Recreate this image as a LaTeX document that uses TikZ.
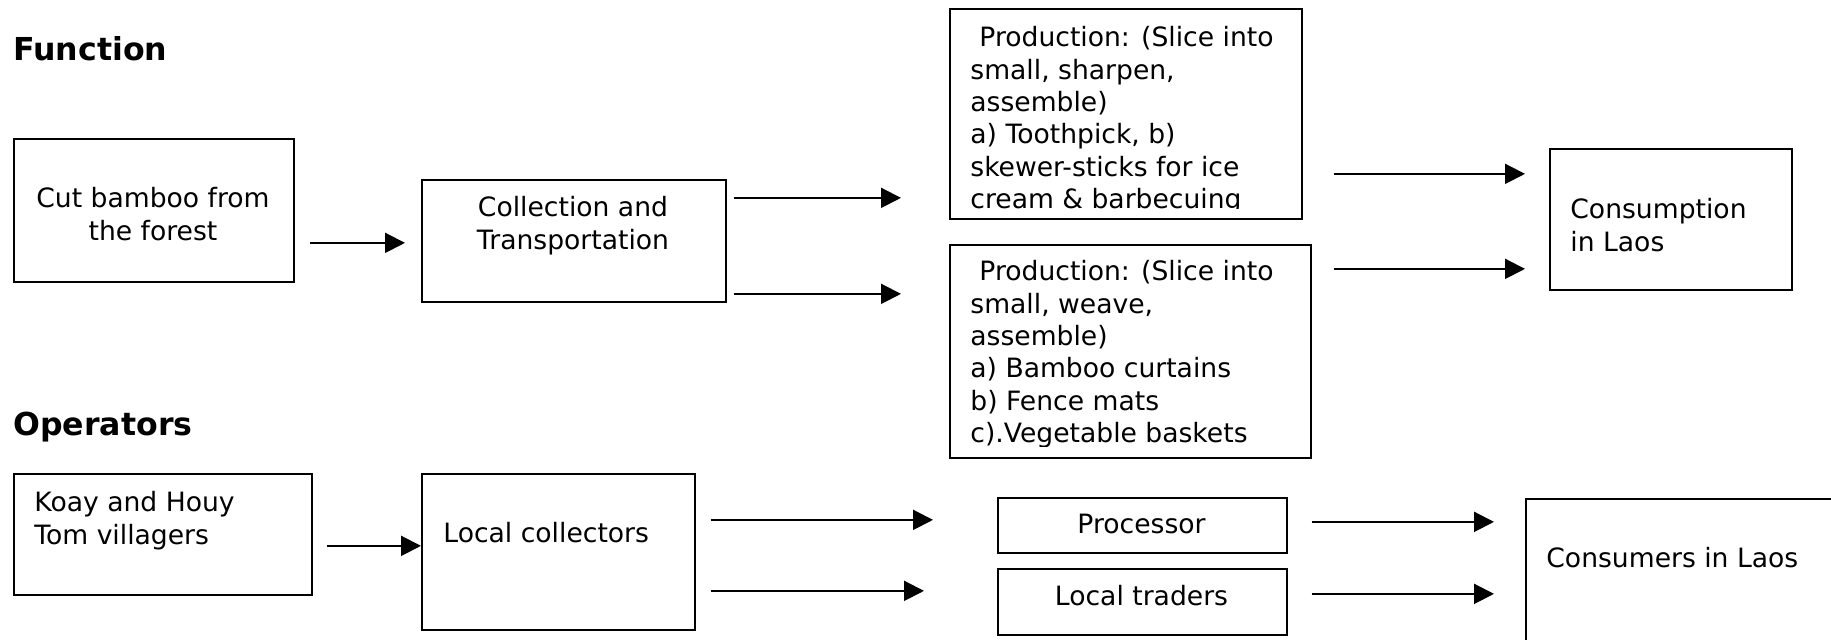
\documentclass[tikz,border=0pt]{standalone}
\usepackage{fontspec}
\setmainfont{DejaVu Sans}
\usetikzlibrary{arrows.meta,calc}

\begin{document}
\begin{tikzpicture}[x=0.5pt,y=-0.5pt,
  box/.style={draw, line width=0.85pt, anchor=north west, inner sep=0pt},
  txt/.style={inner sep=0pt, font=\fontsize{13.3pt}{16.2pt}\selectfont},
  head/.style={inner sep=0pt, anchor=base west, font=\fontsize{15.8pt}{19pt}\selectfont\bfseries},
  arrow/.style={line width=1pt, -{Triangle[length=10pt,width=10pt]}}]

  \useasboundingbox (0,0) rectangle (1831,639);

  % headings
  \node[head] (function) at (13,60) {Function};
  \node[head] (operators) at (13,435) {Operators};

  % function row
  \node[box, minimum width=140pt, minimum height=71.5pt] (cut) at (13,138) {};
  \node[box, minimum width=152pt, minimum height=61pt] (coll) at (421,179) {};
  \node[box, minimum width=176pt, minimum height=105pt] (proda) at (949,8) {};
  \node[box, minimum width=180.5pt, minimum height=106.5pt] (prodb) at (949,244) {};
  \node[box, minimum width=121pt, minimum height=70.5pt] (cons) at (1549,148) {};

  \node[txt, anchor=north, align=center] (cuttext) at (153,187) {Cut bamboo from\\the forest};
  \node[txt, anchor=north, align=center] (colltext) at (573,196) {Collection and\\Transportation};
  \begin{scope}
    \clip (949,8) rectangle (1301,208);
    \node[txt, anchor=north west, align=left] (prodatext) at (970,26)
      {\hspace*{4.5pt}Production: (Slice into\\small, sharpen,\\assemble)\\a) Toothpick, b)\\skewer-sticks for ice\\cream \& barbecuing};
  \end{scope}
  \begin{scope}
    \clip (949,244) rectangle (1310,446);
    \node[txt, anchor=north west, align=left] (prodbtext) at (970,260)
      {\hspace*{4.5pt}Production: (Slice into\\small, weave,\\assemble)\\a) Bamboo curtains\\b) Fence mats\\c).Vegetable baskets};
  \end{scope}
  \node[txt, anchor=north west, align=left] (constext) at (1570,198) {Consumption\\in Laos};

  \draw[arrow] ($(cut.east)+(15,32.5)$) -- ($(coll.west)+(-16,2)$);
  \draw[arrow] ($(coll.east)+(7,-43)$) -- ($(proda.west)+(-48,84)$);
  \draw[arrow] ($(coll.east)+(7,53)$) -- ($(prodb.west)+(-48,-57.5)$);
  \draw[arrow] ($(proda.east)+(31,60)$) -- ($(cons.west)+(-24,-45.5)$);
  \draw[arrow] ($(prodb.east)+(22,-82.5)$) -- ($(cons.west)+(-24,49.5)$);

  % operators row
  \node[box, minimum width=149pt, minimum height=60.5pt] (koay) at (13,473) {};
  \node[box, minimum width=136.5pt, minimum height=78pt] (lcoll) at (421,473) {};
  \node[box, minimum width=144.5pt, minimum height=27.5pt] (proc) at (997,497) {};
  \node[box, minimum width=144.5pt, minimum height=33pt] (trad) at (997,568) {};
  \node[box, minimum width=160pt, minimum height=80pt] (consumers) at (1525,498) {};

  \node[txt, anchor=north west, align=left] (koaytext) at (34,491) {Koay and Houy\\Tom villagers};
  \node[txt, anchor=base west] (lcolltext) at (443,542) {Local collectors};
  \node[txt, anchor=base] (proctext) at (1141.5,533) {Processor};
  \node[txt, anchor=base] (tradtext) at (1141.5,605) {Local traders};
  \node[txt, anchor=base west] (consumerstext) at (1546,567) {Consumers in Laos};

  \draw[arrow] ($(koay.east)+(14,11.5)$) -- ($(lcoll.west)+(0,-6)$);
  \draw[arrow] ($(lcoll.east)+(15,-32)$) -- ($(proc.west)+(-64,-5.5)$);
  \draw[arrow] ($(lcoll.east)+(15,39)$) -- ($(trad.west)+(-73,-11)$);
  \draw[arrow] ($(proc.east)+(24,-3.5)$) -- ($(consumers.west)+(-31,-57)$);
  \draw[arrow] ($(trad.east)+(24,-8)$) -- ($(consumers.west)+(-31,15)$);

\end{tikzpicture}
\end{document}
